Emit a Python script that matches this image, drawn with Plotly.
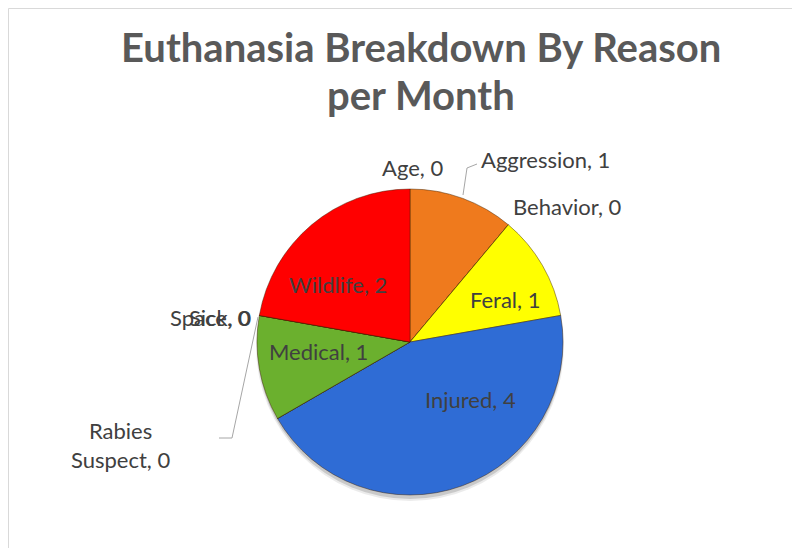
import plotly.graph_objects as go

reasons = ["Age", "Aggression", "Behavior", "Feral", "Injured",
           "Rabies Suspect", "Medical", "Sick", "Space", "Wildlife"]
counts = [0, 1, 0, 1, 4, 0, 1, 0, 0, 2]
colors = ["#A5A5A5", "#EF7A1D", "#BBBBBB", "#FFFF00", "#2F6CD5",
          "#999999", "#6BB02E", "#888888", "#777777", "#FF0000"]
title_lines = ["Euthanasia Breakdown By Reason", "per Month"]

W, H = 800, 548
OFF = 8  # page body margin offsets the figure by 8px in the browser


def px(x):
    return (x - OFF) / W


def py(y):
    return 1 - (y - OFF) / H


cx, cy, R = 410, 342, 153

fig = go.Figure(go.Pie(
    labels=reasons, values=counts, sort=False, direction="clockwise",
    rotation=0, textinfo="none",
    marker=dict(colors=colors, line=dict(color="rgba(60,30,0,0.45)", width=1)),
    domain=dict(x=[px(cx - R), px(cx + R)], y=[py(cy + R), py(cy - R)]),
    showlegend=False, hoverinfo="label+value",
))

# label positions (pixels from top-left of window) and anchors
label_pos = {
    "Age": (412, 167, "center"),
    "Aggression": (479, 159, "left"),
    "Behavior": (511, 206, "left"),
    "Feral": (505, 299, "center"),
    "Injured": (470, 399, "center"),
    "Rabies Suspect": (120, 445, "center"),
    "Medical": (318, 351, "center"),
    "Space": (253, 317, "right"),
    "Sick": (253, 317, "right"),
    "Wildlife": (338, 284, "center"),
}
annotations = []
for r, c in zip(reasons, counts):
    x, y, anc = label_pos[r]
    t = f"{r}, {c}"
    if r == "Rabies Suspect":
        t = f"Rabies<br>Suspect, {c}"
    annotations.append(dict(
        x=px(x), y=py(y), xref="paper", yref="paper",
        text=t, showarrow=False, xanchor=anc, yanchor="middle",
        font=dict(family="Lato", size=22, color="#404040"), align="center"))

for line, yc in zip(title_lines, [47, 95]):
    annotations.append(dict(
        x=px(421), y=py(yc), xref="paper", yref="paper",
        text=f"<b>{line}</b>", showarrow=False, xanchor="center",
        yanchor="middle", font=dict(family="Lato", size=40, color="#595959")))

shapes = [
    # chart frame (as close to the window's top-left as the page allows)
    dict(type="rect", xref="paper", yref="paper",
         x0=px(8.5), x1=1.05, y0=-0.05, y1=py(8.5),
         line=dict(color="#D9D9D9", width=1), layer="below"),
    # soft shadow under pie
    dict(type="circle", xref="paper", yref="paper", layer="below",
         x0=px(cx - R - 1), x1=px(cx + R + 1),
         y0=py(cy + R + 6), y1=py(cy - R + 2),
         fillcolor="rgba(0,0,0,0.08)", line=dict(width=0)),
    dict(type="circle", xref="paper", yref="paper", layer="below",
         x0=px(cx - R), x1=px(cx + R),
         y0=py(cy + R + 4), y1=py(cy - R + 2),
         fillcolor="rgba(0,0,0,0.14)", line=dict(width=0)),
    # leader lines
    dict(type="path", xref="paper", yref="paper",
         path=f"M {px(463)} {py(195)} L {px(467)} {py(168)} L {px(477)} {py(164)}",
         line=dict(color="#A6A6A6", width=1)),
    dict(type="path", xref="paper", yref="paper",
         path=f"M {px(258)} {py(317)} L {px(232)} {py(438)} L {px(219)} {py(438)}",
         line=dict(color="#A6A6A6", width=1)),
]

fig.update_layout(
    width=W, height=H, margin=dict(l=0, r=0, t=0, b=0),
    paper_bgcolor="white", plot_bgcolor="white",
    annotations=annotations, shapes=shapes,
)

fig.write_html("out.html")
